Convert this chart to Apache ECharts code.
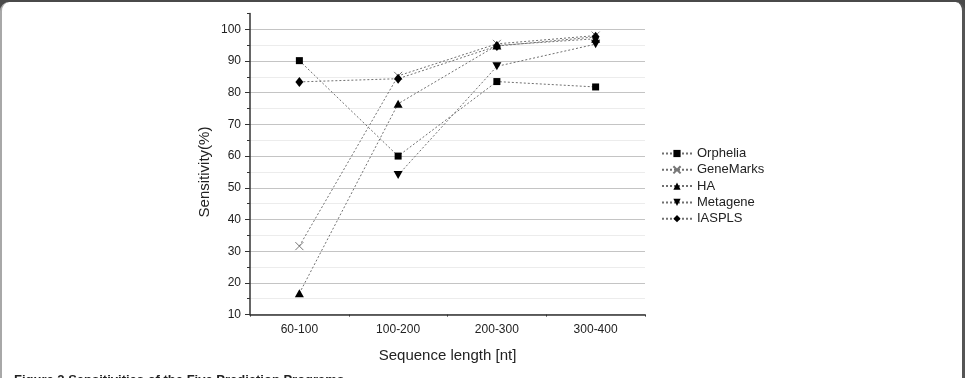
<!DOCTYPE html>
<html>
<head>
<meta charset="utf-8">
<script src="https://cdn.jsdelivr.net/npm/echarts@6/dist/echarts.min.js"></script>
<style>
  html, body { margin: 0; padding: 0; background: #4a4a4a; }
  #frame {
    position: absolute; left: 0; top: 2px; width: 960px; height: 376px;
    background: #fff; border-radius: 9px 9px 0 0;
    border-left: 2px solid #a8a8a8; border-right: 3px solid #555;
    overflow: hidden;
  }
  #chart { position: absolute; left: -2px; top: -2px; width: 965px; height: 378px; }
</style>
</head>
<body>
<div id="frame"><div id="chart"></div></div>
<script>
const categories = ['60-100', '100-200', '200-300', '300-400']
const orphelia = [90.1, 60.0, 83.5, 81.8]
const geneMarks = [31.6, 85.3, 95.4, 98.0]
const ha = [16.7, 76.5, 94.9, 97.0]
const metagene = [null, 54.0, 88.3, 95.3]
const iaspls = [83.4, 84.4, 94.7, 97.6]
const yLabels = [10, 20, 30, 40, 50, 60, 70, 80, 90, 100]

const chart = echarts.init(document.getElementById('chart'))

const lineStyle = { color: '#707070', width: 1, type: [2, 2] }

function makeSeries(name, data, symbol, size, extra) {
  return Object.assign({
    name,
    type: 'line',
    data,
    symbol,
    symbolSize: size,
    connectNulls: false,
    animation: false,
    lineStyle,
    itemStyle: { color: '#000' },
    emphasis: { disabled: true }
  }, extra || {})
}

// minor grid lines light, major darker (ticks every 5 from 10 to 105)
const splitColors = []
for (let v = 10; v <= 105; v += 5) {
  if (v === 105) splitColors.push('rgba(0,0,0,0)')
  else splitColors.push(v % 10 === 0 ? '#c4c4c4' : '#ececec')
}

chart.setOption({
  backgroundColor: 'transparent',
  textStyle: { fontFamily: 'Liberation Sans, Arial, sans-serif' },
  grid: { left: 250, right: 320, top: 13.4, bottom: 63.4 },
  legend: {
    orient: 'vertical',
    left: 656,
    top: 142,
    itemWidth: 30,
    itemHeight: 9,
    itemGap: 3.3,
    textStyle: { fontSize: 13, color: '#222' },
    data: ['Orphelia', 'GeneMarks', 'HA', 'Metagene', 'IASPLS']
  },
  xAxis: [
    {
      type: 'category',
      data: categories,
      boundaryGap: true,
      name: 'Sequence length [nt]',
      nameLocation: 'middle',
      nameGap: 34,
      nameTextStyle: { fontSize: 15, color: '#222' },
      axisLine: { lineStyle: { color: '#333', width: 1.5 } },
      axisTick: { alignWithLabel: true, length: 3, lineStyle: { color: '#333' } },
      axisLabel: { fontSize: 12, color: '#222', margin: 9 },
      splitLine: { show: false }
    },
    {
      type: 'category',
      data: categories,
      position: 'bottom',
      boundaryGap: true,
      axisLine: { show: false },
      axisTick: { show: true, length: 2, lineStyle: { color: '#333' } },
      axisLabel: { show: false },
      splitLine: { show: false }
    }
  ],
  yAxis: [
    {
      type: 'value',
      min: 10,
      max: 105,
      interval: 5,
      name: 'Sensitivity(%)',
      nameLocation: 'middle',
      nameGap: 38,
      nameTextStyle: { fontSize: 15, color: '#222', padding: [0, 16, 0, 0] },
      axisLine: { show: true, lineStyle: { color: '#333', width: 1.5 } },
      axisTick: { show: true, length: 3, lineStyle: { color: '#333' } },
      axisLabel: { fontSize: 12, color: '#222', margin: 9, customValues: yLabels },
      splitLine: { show: true, lineStyle: { color: splitColors, width: 1 } }
    },
    {
      type: 'value',
      min: 10,
      max: 105,
      interval: 5,
      position: 'left',
      axisLine: { show: false },
      axisTick: { show: true, length: 5, customValues: yLabels, lineStyle: { color: '#333' } },
      axisLabel: { show: false },
      splitLine: { show: false }
    }
  ],
  graphic: [
    {
      type: 'text',
      left: 14,
      top: 374,
      style: {
        text: 'Figure 2 Sensitivities of the Five Prediction Programs',
        font: 'bold 13px Liberation Sans, Arial, sans-serif',
        fill: '#222'
      }
    }
  ],
  series: [
    makeSeries('Orphelia', orphelia, 'rect', 7),
    makeSeries('GeneMarks', geneMarks, 'path://M0,0L10,10M10,0L0,10', 8, {
      itemStyle: { color: 'rgba(0,0,0,0)', borderColor: '#777', borderWidth: 1 }
    }),
    makeSeries('HA', ha, 'triangle', [9, 8]),
    makeSeries('Metagene', metagene, 'triangle', [9, 8], { symbolRotate: 180 }),
    makeSeries('IASPLS', iaspls, 'diamond', [8, 10])
  ]
})
</script>
</body>
</html>
